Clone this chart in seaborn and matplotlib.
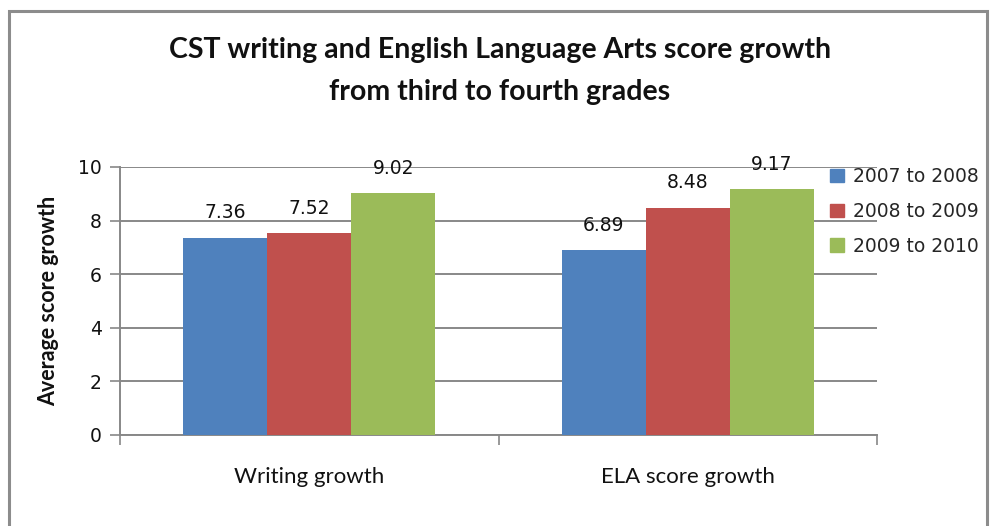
import matplotlib
matplotlib.use("Agg")
import matplotlib.pyplot as plt
import matplotlib.patches as mpatches
from matplotlib.ticker import FixedLocator, NullFormatter
import pandas as pd
import seaborn as sns

# Chart data
categories = ["Writing growth", "ELA score growth"]
periods = ["2007 to 2008", "2008 to 2009", "2009 to 2010"]
growth_2007_2008 = [7.36, 6.89]
growth_2008_2009 = [7.52, 8.48]
growth_2009_2010 = [9.02, 9.17]
y_ticks = [0, 2, 4, 6, 8, 10]
colors = ["#4F81BD", "#C0504D", "#9BBB59"]

df = pd.DataFrame({
    "category": categories * 3,
    "period": [periods[0]] * 2 + [periods[1]] * 2 + [periods[2]] * 2,
    "value": growth_2007_2008 + growth_2008_2009 + growth_2009_2010,
})

sns.set_theme(style="white")
plt.rcParams["font.family"] = ["DejaVu Sans"]

W, H = 990, 526
fig = plt.figure(figsize=(W / 100, H / 100), dpi=100)
fig.patch.set_facecolor("white")

# plot area in pixel coordinates
left, right, top, bottom = 120, 877, 167, 435
ax = fig.add_axes([left / W, 1 - bottom / H, (right - left) / W, (bottom - top) / H])

sns.barplot(data=df, x="category", y="value", hue="period", order=categories,
            hue_order=periods, palette=colors, width=0.667, gap=0,
            saturation=1, edgecolor="none", linewidth=0, ax=ax, legend=True,
            zorder=3)

grid_color = "#888888"
ax.set_ylim(0, 10)
ax.set_xlim(-0.5, 1.5)
ax.set_yticks(y_ticks)
ax.set_yticklabels([str(t) for t in y_ticks], fontsize=13.5, color="#111111")
ax.yaxis.grid(True, color=grid_color, linewidth=1.4, zorder=0)
ax.set_axisbelow(True)
ax.tick_params(axis="y", which="major", length=7, width=1.2, color=grid_color,
               left=True, pad=6)

# category labels centred, boundary ticks between categories
ax.tick_params(axis="x", which="major", length=0, pad=23)
ax.set_xticks([0, 1])
ax.set_xticklabels(categories, fontsize=16, family="Lato", color="#111111")
ax.xaxis.set_minor_locator(FixedLocator([-0.5, 0.5, 1.5]))
ax.xaxis.set_minor_formatter(NullFormatter())
ax.tick_params(axis="x", which="minor", length=7, width=1.2, color=grid_color,
               bottom=True, direction="out")

for side in ["top", "right"]:
    ax.spines[side].set_visible(False)
for side in ["left", "bottom"]:
    ax.spines[side].set_color(grid_color)
    ax.spines[side].set_linewidth(1.4)

ax.set_xlabel("")
ax.set_ylabel("Average score growth", fontsize=15.5, fontweight="bold",
              family="Lato", color="#111111", labelpad=14)

# value labels above the bars
for container in ax.containers:
    ax.bar_label(container, labels=[f"{v:.2f}" for v in container.datavalues],
                 padding=11, fontsize=13.5, color="#111111")

# legend on the right
handles = [mpatches.Patch(color=c) for c in colors]
ax.legend(handles, periods, loc="upper left", bbox_to_anchor=(830 / W, 1 - 167 / H),
          bbox_transform=fig.transFigure, frameon=False, fontsize=13.5,
          handlelength=0.75, handleheight=0.75, handletextpad=0.5,
          labelspacing=0.85, borderaxespad=0, borderpad=0)

# two-line title
fig.text(500 / W, 1 - 50 / H, "CST writing and English Language Arts score growth",
         ha="center", va="center", fontsize=20.5, fontweight="bold",
         family="Lato", color="#111111")
fig.text(500 / W, 1 - 92 / H, "from third to fourth grades",
         ha="center", va="center", fontsize=20.5, fontweight="bold",
         family="Lato", color="#111111")

# chart frame
frame = mpatches.Rectangle((9 / W, -0.05), (987 - 9) / W, 1 - 11 / H + 0.05,
                           transform=fig.transFigure, fill=False,
                           edgecolor="#8C8C8C", linewidth=2.2, zorder=10)
fig.patches.append(frame)

fig.savefig("out.png", dpi=100, facecolor="white")
